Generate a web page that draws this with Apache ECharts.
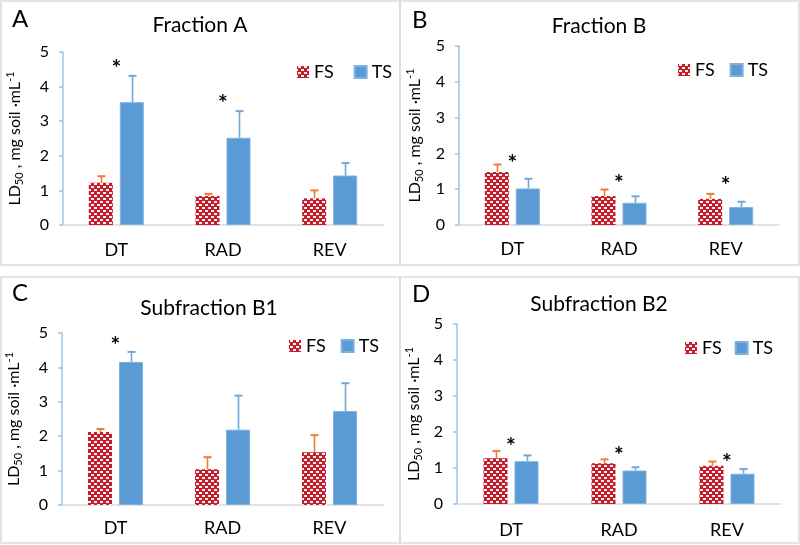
<!DOCTYPE html>
<html>
<head>
<meta charset="utf-8">
<script src="https://cdn.jsdelivr.net/npm/echarts@6/dist/echarts.min.js"></script>
<style>html,body{margin:0;padding:0;background:#fff}#c{width:800px;height:545px}</style>
</head>
<body>
<div id="c"></div>
<script>
// ---- data ----
var categories = ['DT', 'RAD', 'REV'];
var panelLetters = ['A', 'B', 'C', 'D'];
var panelTitles = ['Fraction A', 'Fraction B', 'Subfraction B1', 'Subfraction B2'];
var yTicks = [0, 1, 2, 3, 4, 5];

var fsA = [1.22, 0.84, 0.77];
var tsA = [3.55, 2.52, 1.43];
var fsErrA = [0.19, 0.06, 0.23];
var tsErrA = [0.76, 0.77, 0.36];
var starA = [4.68, 3.67, null];

var fsB = [1.48, 0.81, 0.73];
var tsB = [1.02, 0.62, 0.50];
var fsErrB = [0.21, 0.18, 0.14];
var tsErrB = [0.27, 0.18, 0.15];
var starB = [1.89, 1.33, 1.28];

var fsC = [2.12, 1.04, 1.53];
var tsC = [4.16, 2.19, 2.73];
var fsErrC = [0.09, 0.35, 0.50];
var tsErrC = [0.29, 0.99, 0.81];
var starC = [4.81, null, null];

var fsD = [1.27, 1.13, 1.06];
var tsD = [1.19, 0.93, 0.84];
var fsErrD = [0.20, 0.11, 0.12];
var tsErrD = [0.16, 0.09, 0.13];
var starD = [1.75, 1.50, 1.32];

var panels = [
  {fs: fsA, ts: tsA, fsErr: fsErrA, tsErr: tsErrA, star: starA},
  {fs: fsB, ts: tsB, fsErr: fsErrB, tsErr: tsErrB, star: starB},
  {fs: fsC, ts: tsC, fsErr: fsErrC, tsErr: tsErrC, star: starC},
  {fs: fsD, ts: tsD, fsErr: fsErrD, tsErr: tsErrD, star: starD}
];

// ---- layout / style ----
var FONT = 'Lato';
var grids = [
  {left: 63, top: 52, width: 320, height: 173},
  {left: 459, top: 46, width: 320, height: 179},
  {left: 62, top: 333, width: 321, height: 172},
  {left: 457, top: 324, width: 324, height: 180}
];
var nameGaps = [38, 34, 38, 33];
var xLabelMargins = [16, 15, 14, 17];
var legendPos = [
  {left: 297, top: 63, itemGap: 20},
  {left: 678, top: 61, itemGap: 15},
  {left: 289, top: 337, itemGap: 15},
  {left: 685, top: 339, itemGap: 13}
];
var letterPos = [{x: 12, y: 21}, {x: 412, y: 22}, {x: 12, y: 295}, {x: 412, y: 296}];
var titlePos = [{x: 200, y: 28}, {x: 599, y: 29}, {x: 209, y: 311}, {x: 599, y: 307}];

var BAR_W = 24, BAR_GAP = 7;
var OFFSET = BAR_W / 2 + BAR_GAP / 2;
var TS_COLOR = '#5B9BD5';
var FS_ERR = '#ED7D31';
var TS_ERR = '#6FA8DC';

function makePattern() {
  var c = document.createElement('canvas');
  c.width = 6; c.height = 6;
  var g = c.getContext('2d');
  g.fillStyle = '#C41E2C';
  g.fillRect(0, 0, 6, 6);
  g.fillStyle = 'rgba(255,255,255,0.92)';
  g.fillRect(1, 0, 3, 2);
  g.fillRect(4, 3, 2, 2);
  g.fillRect(0, 3, 1, 2);
  return {image: c, repeat: 'repeat'};
}
var FS_PATTERN = makePattern();

function errSeries(gi, vals, errs, offset, color) {
  return {
    type: 'custom', xAxisIndex: gi, yAxisIndex: gi, z: 5, silent: true,
    data: vals.map(function (v, i) { return [i, v, v + errs[i]]; }),
    renderItem: function (params, api) {
      var x = api.value(0);
      var p0 = api.coord([x, api.value(1)]);
      var p1 = api.coord([x, api.value(2)]);
      var cx = Math.round(p0[0] + offset) + 0.5;
      return {type: 'group', children: [
        {type: 'line', shape: {x1: cx, y1: p0[1], x2: cx, y2: p1[1]}, style: {stroke: color, lineWidth: 1.6}},
        {type: 'line', shape: {x1: cx - 4, y1: p1[1], x2: cx + 4, y2: p1[1]}, style: {stroke: color, lineWidth: 2}}
      ]};
    }
  };
}

function starSeries(gi, stars) {
  var d = [];
  stars.forEach(function (v, i) { if (v != null) d.push([i, v]); });
  return {
    type: 'custom', xAxisIndex: gi, yAxisIndex: gi, z: 6, silent: true,
    data: d,
    renderItem: function (params, api) {
      var p = api.coord([api.value(0), api.value(1)]);
      return {type: 'text', x: p[0], y: p[1] + 6, style: {
        text: '*', fill: '#000', font: 'bold 23px ' + FONT, align: 'center', verticalAlign: 'middle'}};
    }
  };
}

var option = {
  backgroundColor: '#fff',
  animation: false,
  title: [],
  legend: [],
  grid: [],
  xAxis: [],
  yAxis: [],
  series: [],
  graphic: [
    {type: 'rect', shape: {x: 1, y: 1, width: 399, height: 264}, style: {fill: 'none', stroke: '#DCDCDC', lineWidth: 1.5}},
    {type: 'rect', shape: {x: 400, y: 1, width: 399, height: 264}, style: {fill: 'none', stroke: '#DCDCDC', lineWidth: 1.5}},
    {type: 'rect', shape: {x: 1, y: 277, width: 399, height: 266}, style: {fill: 'none', stroke: '#DCDCDC', lineWidth: 1.5}},
    {type: 'rect', shape: {x: 400, y: 277, width: 399, height: 266}, style: {fill: 'none', stroke: '#DCDCDC', lineWidth: 1.5}}
  ]
};

panels.forEach(function (p, gi) {
  option.grid.push(grids[gi]);
  option.title.push({
    text: panelLetters[gi], left: letterPos[gi].x, top: letterPos[gi].y - 14, padding: 0,
    textStyle: {fontFamily: FONT, fontSize: 24, fontWeight: 'normal', color: '#000'}
  });
  option.title.push({
    text: panelTitles[gi], left: titlePos[gi].x, top: titlePos[gi].y - 13, textAlign: 'center', padding: 0,
    textStyle: {fontFamily: FONT, fontSize: 21, fontWeight: 'normal', color: '#000'}
  });
  option.legend.push({
    data: ['FS', 'TS'], left: legendPos[gi].left, top: legendPos[gi].top, itemGap: legendPos[gi].itemGap,
    padding: 0, itemWidth: 12, itemHeight: 12, icon: 'rect', selectedMode: false,
    textStyle: {fontFamily: FONT, fontSize: 18, color: '#000'}
  });
  option.xAxis.push({
    type: 'category', gridIndex: gi, data: categories,
    axisLine: {lineStyle: {color: '#D9D9D9', width: 1.5}},
    axisTick: {show: false},
    axisLabel: {fontFamily: FONT, fontSize: 18, color: '#000', margin: xLabelMargins[gi]},
    splitLine: {show: false}
  });
  option.yAxis.push({
    type: 'value', gridIndex: gi, min: yTicks[0], max: yTicks[yTicks.length - 1], interval: 1,
    axisLine: {show: true, lineStyle: {color: '#9DC3E6', width: 1.5}},
    axisTick: {show: true, length: 4, lineStyle: {color: '#9DC3E6', width: 1.5}},
    axisLabel: {fontFamily: FONT, fontSize: 16, color: '#000', margin: 14},
    splitLine: {show: false},
    name: '{a|LD}{s|50}{a| , mg soil ·mL}{p|-1}',
    nameLocation: 'middle', nameRotate: 90, nameGap: nameGaps[gi],
    nameTextStyle: {
      fontFamily: FONT, fontSize: 16, color: '#000',
      rich: {
        a: {fontFamily: FONT, fontSize: 16, lineHeight: 20, color: '#000', verticalAlign: 'middle'},
        s: {fontFamily: FONT, fontSize: 11, lineHeight: 10, color: '#000', verticalAlign: 'bottom'},
        p: {fontFamily: FONT, fontSize: 11, lineHeight: 10, color: '#000', verticalAlign: 'top'}
      }
    }
  });
  option.series.push({
    name: 'FS', type: 'bar', xAxisIndex: gi, yAxisIndex: gi, data: p.fs,
    barWidth: BAR_W, barGap: (BAR_GAP / BAR_W * 100) + '%',
    itemStyle: {color: FS_PATTERN}
  });
  option.series.push({
    name: 'TS', type: 'bar', xAxisIndex: gi, yAxisIndex: gi, data: p.ts,
    barWidth: BAR_W, barGap: (BAR_GAP / BAR_W * 100) + '%',
    itemStyle: {color: TS_COLOR, borderColor: '#7DB1E0', borderWidth: 1}
  });
  option.series.push(errSeries(gi, p.fs, p.fsErr, -OFFSET, FS_ERR));
  option.series.push(errSeries(gi, p.ts, p.tsErr, OFFSET, TS_ERR));
  option.series.push(starSeries(gi, p.star));
});

var chart = echarts.init(document.getElementById('c'), null, {renderer: 'canvas'});
chart.setOption(option);
</script>
</body>
</html>
